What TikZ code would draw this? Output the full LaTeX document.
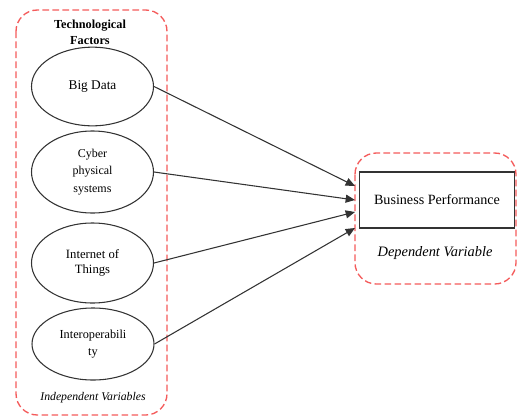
\documentclass[tikz,border=0pt]{standalone}
\usepackage{fontspec}
\setmainfont{Liberation Serif}
\usetikzlibrary{arrows.meta,shapes.geometric}
\definecolor{dashred}{HTML}{F45B5B}
\definecolor{inkgray}{HTML}{333333}
\begin{document}
\begin{tikzpicture}[x=0.75pt,y=-0.75pt,
  groupbox/.style={draw=dashred,line width=1pt,dash pattern=on 5pt off 2.5pt,rounded corners=16pt},
  var/.style={draw=inkgray,line width=0.8pt,ellipse,minimum width=91.5pt,align=center,inner sep=0pt},
  conn/.style={draw=inkgray,line width=0.8pt,-{Triangle[length=7pt,width=6pt]}}]
\useasboundingbox (0,0) rectangle (517,418);
% left group
\draw[groupbox] (16,10) rectangle (167,415);
\node[font=\bfseries\fontsize{9.2}{12}\selectfont,align=center] (tf) at (90,32) {Technological\\Factors};
\node[font=\itshape\fontsize{8.8}{11}\selectfont] (iv) at (93,398) {Independent Variables};
% ellipses
\node[var,minimum height=59pt,font=\fontsize{10}{12}\selectfont] (bd) at (92.5,86.5) {Big Data};
\node[var,minimum height=61.5pt,font=\fontsize{9}{13}\selectfont] (cps) at (92.5,172) {Cyber\\physical\\systems};
\node[var,minimum height=60pt,font=\fontsize{9.5}{11.5}\selectfont] (iot) at (92.5,263) {Internet of\\Things};
\node[var,minimum height=54pt,font=\fontsize{9.2}{12.5}\selectfont] (io) at (93,344) {Interoperabili\\ty};
% right group
\draw[groupbox] (355,153) rectangle (516,284);
\node[draw=inkgray,line width=0.8pt,minimum width=116pt,minimum height=42pt,inner sep=0pt,font=\fontsize{10.6}{12}\selectfont] (bp) at (437,200) {Business Performance};
\node[font=\itshape\fontsize{10.8}{13}\selectfont] (dv) at (435,253) {Dependent Variable};
% arrow end points
\coordinate (t1) at (355,186);
\coordinate (t2) at (355,200);
\coordinate (t3) at (355,212);
\coordinate (t4) at (355,228);
\draw[conn] (bd.east) -- (t1);
\draw[conn] (cps.east) -- (t2);
\draw[conn] (iot.east) -- (t3);
\draw[conn] (io.east) -- (t4);
\end{tikzpicture}
\end{document}
